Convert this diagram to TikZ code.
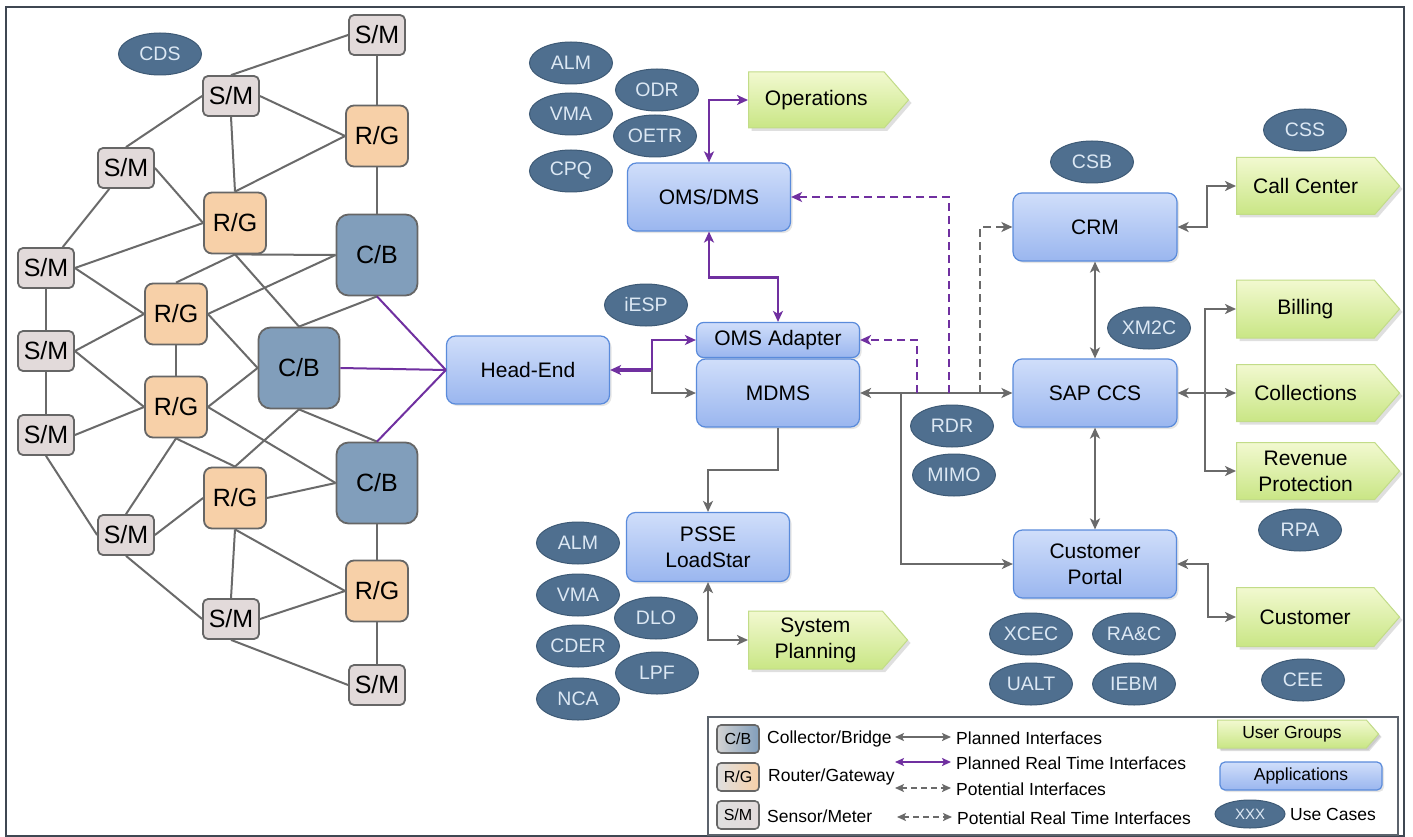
\documentclass[tikz,border=0pt]{standalone}
\usepackage{fontspec}
\setmainfont{Liberation Sans}
\usetikzlibrary{shapes.geometric,shapes.symbols,arrows.meta,shadows}
\definecolor{lineg}{HTML}{6A6A6A}
\definecolor{purp}{HTML}{7030A0}
\definecolor{ucfill}{HTML}{4F6F8F}
\definecolor{ucdraw}{HTML}{3E5A76}
\definecolor{uctext}{HTML}{DCE8F4}
\definecolor{smfill}{HTML}{E2DADA}
\definecolor{rgfill}{HTML}{F7D0A8}
\definecolor{cbfill}{HTML}{819EBB}
\definecolor{meshdraw}{HTML}{666666}
\definecolor{apptop}{HTML}{D0DEFA}
\definecolor{appbot}{HTML}{9AB6EF}
\definecolor{appdraw}{HTML}{5A8BDB}
\definecolor{grtop}{HTML}{F2F9D0}
\definecolor{grbot}{HTML}{C9E685}
\definecolor{grdraw}{HTML}{C2DC88}
\definecolor{framec}{HTML}{3F4752}
\tikzset{
 meshbox/.style={draw=meshdraw, line width=1.8pt, font=\fontsize{25}{27}\selectfont, inner sep=0pt},
 smbox/.style={meshbox, fill=smfill, minimum width=56pt, minimum height=40pt, rounded corners=5pt},
 rgbox/.style={meshbox, fill=rgfill, minimum width=62pt, minimum height=61pt, rounded corners=8pt},
 cbbox/.style={meshbox, fill=cbfill, minimum width=81pt, minimum height=81pt, rounded corners=12pt},
 uc/.style={ellipse, fill=ucfill, draw=ucdraw, line width=1pt, minimum width=83pt, minimum height=42pt, inner sep=0pt, text=uctext, font=\fontsize{19.5}{21}\selectfont},
 app/.style={draw=appdraw, line width=1.2pt, rounded corners=9pt, top color=apptop, bottom color=appbot, minimum width=163pt, minimum height=68pt, inner sep=0pt, align=center, font=\fontsize{21}{26}\selectfont, drop shadow={opacity=0.2, shadow xshift=2pt, shadow yshift=-2pt}},
 ug/.style={signal, signal to=east, signal pointer angle=98, anchor=west, draw=grdraw, line width=1pt, top color=grtop, bottom color=grbot, minimum width=163pt, minimum height=58pt, inner sep=0pt, align=center, font=\fontsize{21}{26}\selectfont, drop shadow={opacity=0.25, shadow xshift=3pt, shadow yshift=-3pt}},
 edge/.style={draw=lineg, line width=2pt},
 gline/.style={draw=lineg, line width=2.2pt},
 pline/.style={draw=purp, line width=2.4pt},
 gdash/.style={gline, dash pattern=on 8pt off 5pt},
 pdash/.style={pline, dash pattern=on 8pt off 5pt},
 legtext/.style={anchor=west, inner sep=0pt, font=\fontsize{17.5}{20}\selectfont},
 mini/.style={draw=meshdraw, line width=1.6pt, rounded corners=4pt, minimum width=42pt, minimum height=28pt, inner sep=0pt, font=\fontsize{16}{18}\selectfont},
 legarr/.style={>={Stealth[length=9pt,width=8pt,inset=2pt]}},
 >={Stealth[length=11pt,width=10pt,inset=3pt]}
}
\begin{document}
\begin{tikzpicture}[x=1pt,y=-1pt]
\useasboundingbox (0,0) rectangle (1413,837);
\fill[white] (0,0) rectangle (1413,837);
\draw[framec, line width=2pt] (6,7) rectangle (1404,836);

% ---------------- mesh ----------------
\node[smbox] (sm1) at (377,35) {S/M};
\node[smbox] (sm2) at (231,96) {S/M};
\node[rgbox] (rg1) at (377,136) {R/G};
\node[smbox] (sm3) at (126,168) {S/M};
\node[rgbox] (rg2) at (235,223) {R/G};
\node[cbbox] (cb1) at (377,255) {C/B};
\node[smbox] (sm4) at (46,268) {S/M};
\node[rgbox] (rg3) at (176,314) {R/G};
\node[cbbox] (cb2) at (299,368) {C/B};
\node[smbox] (sm5) at (46,351) {S/M};
\node[rgbox] (rg4) at (176,407) {R/G};
\node[smbox] (sm6) at (46,435) {S/M};
\node[cbbox] (cb3) at (377,483) {C/B};
\node[rgbox] (rg5) at (235,498) {R/G};
\node[smbox] (sm7) at (126,535) {S/M};
\node[rgbox] (rg6) at (377,591) {R/G};
\node[smbox] (sm8) at (231,619) {S/M};
\node[smbox] (sm9) at (377,685) {S/M};

\draw[edge] (sm1.west) -- (sm2.north);
\draw[edge] (sm1.south) -- (rg1.north);
\draw[edge] (sm2.east) -- (rg1.west);
\draw[edge] (sm2.south) -- (rg2.north);
\draw[edge] (sm2.west) -- (sm3.north);
\draw[edge] (sm3.east) -- (rg2.west);
\draw[edge] (sm3) -- (sm4);
\draw[edge] (rg1.west) -- (rg2.north);
\draw[edge] (rg1.south) -- (cb1.north);
\draw[edge] (sm4.east) -- (rg2.west);
\draw[edge] (rg2.south) -- (cb1.west);
\draw[edge] (rg2.south) -- (rg3.north);
\draw[edge] (rg2.south) -- (cb2.north);
\draw[edge] (sm4.east) -- (rg3.west);
\draw[edge] (rg3.east) -- (cb1.west);
\draw[edge] (cb1.south) -- (cb2.north);
\draw[edge] (sm4.south) -- (sm5.north);
\draw[edge] (sm5.east) -- (rg3.west);
\draw[edge] (sm5.east) -- (rg4.west);
\draw[edge] (rg3.south) -- (rg4.north);
\draw[edge] (rg3.east) -- (cb2.west);
\draw[edge] (rg4.east) -- (cb2.west);
\draw[edge] (sm5.south) -- (sm6.north);
\draw[edge] (sm6.east) -- (rg4.west);
\draw[edge] (rg4.east) -- (cb3.west);
\draw[edge] (cb2.south) -- (rg5.north);
\draw[edge] (cb2.south) -- (cb3.north);
\draw[edge] (rg4.south) -- (rg5.north);
\draw[edge] (rg4.south) -- (sm7.north);
\draw[edge] (sm6.south) -- (sm7.west);
\draw[edge] (sm7.east) -- (rg5.west);
\draw[edge] (rg5.east) -- (cb3.west);
\draw[edge] (cb3.south) -- (rg6.north);
\draw[edge] (rg5.south) -- (sm8.north);
\draw[edge] (rg5.south) -- (rg6.west);
\draw[edge] (sm7.south) -- (sm8.west);
\draw[edge] (sm8.east) -- (rg6.west);
\draw[edge] (sm8.south) -- (sm9.west);
\draw[edge] (rg6.south) -- (sm9.north);

% ---------------- use cases ----------------
\node[uc] (cds) at (160,54) {CDS};
\node[uc] (alm1) at (571,63) {ALM};
\node[uc] (odr) at (657,90) {ODR};
\node[uc] (vma1) at (571,114) {VMA};
\node[uc] (oetr) at (655,136) {OETR};
\node[uc] (cpq) at (571,171) {CPQ};
\node[uc] (iesp) at (646,305) {iESP};
\node[uc] (css) at (1305,130) {CSS};
\node[uc] (csb) at (1092,162) {CSB};
\node[uc] (xm2c) at (1149,328) {XM2C};
\node[uc] (rdr) at (952,426) {RDR};
\node[uc] (mimo) at (954,475) {MIMO};
\node[uc] (rpa) at (1300,530) {RPA};
\node[uc] (alm2) at (578,543) {ALM};
\node[uc] (vma2) at (578,595) {VMA};
\node[uc] (dlo) at (656,618) {DLO};
\node[uc] (cder) at (578,646) {CDER};
\node[uc] (lpf) at (657,673) {LPF};
\node[uc] (nca) at (578,699) {NCA};
\node[uc] (xcec) at (1031,634) {XCEC};
\node[uc] (rac) at (1134,634) {RA\&C};
\node[uc] (ualt) at (1031,684) {UALT};
\node[uc] (iebm) at (1134,684) {IEBM};
\node[uc] (cee) at (1303,680) {CEE};

% ---------------- applications ----------------
\node[app] (omsdms) at (709,197) {OMS/DMS};
\node[app] (he) at (528,370) {Head-End};
\node[app, minimum height=35pt, rounded corners=7pt] (omsad) at (778,340) {OMS Adapter};
\node[app] (mdms) at (778,393) {MDMS};
\node[app, minimum height=69pt] (psse) at (708,547) {PSSE\\LoadStar};
\node[app, minimum width=164pt] (crm) at (1095,227) {CRM};
\node[app, minimum width=164pt] (sap) at (1095,393) {SAP CCS};
\node[app] (portal) at (1095,564) {Customer\\Portal};

% ---------------- user groups ----------------
\node[ug, minimum width=160pt, minimum height=56pt] (ops) at (748,100) {Operations};
\node[ug, minimum width=159pt] (sysplan) at (748,640) {System\\Planning};
\node[ug, minimum height=57pt] (callc) at (1236,186) {Call Center};
\node[ug] (billing) at (1236,309) {Billing};
\node[ug, minimum height=57pt] (collect) at (1236,393) {Collections};
\node[ug, minimum height=57pt] (revprot) at (1236,471) {Revenue\\Protection};
\node[ug, minimum height=59pt] (customer) at (1236,617) {Customer};

% ---------------- connectors ----------------
\draw[pline, line width=2pt] (cb1.south) -- (he.west);
\draw[pline, line width=2pt] (cb2.east) -- (he.west);
\draw[pline, line width=2pt] (cb3.north) -- (he.west);

\coordinate (j1) at (652,370);
\draw[pline, line width=4.5pt, ->] (j1) -- (he.east);
\draw[pline, ->] (j1) |- (omsad.west);
\draw[gline, ->] (j1) |- (mdms.west);

\draw[pline, <->] (omsdms.north) |- (ops.west);
\draw[pline, <->] (omsdms.south) -- ++(0,46) -| (omsad.north);

\draw[gline, <->] (mdms.east) -- (sap.west);
\coordinate (jp) at (901,393);
\coordinate (ja) at (917,393);
\coordinate (jo) at (949,393);
\coordinate (jc) at (980,393);
\draw[gline, ->] (jp) |- (portal.west);
\draw[pdash, ->] (ja) |- (omsad.east);
\draw[pdash, ->] (jo) |- (omsdms.east);
\draw[gdash, ->] (jc) |- (crm.west);

\draw[gline, <->] (crm.south) -- (sap.north);
\draw[gline, <->] (sap.south) -- (portal.north);
\draw[gline, <->] (crm.east) -- ++(29,0) |- (callc.west);

\coordinate (js) at (1205,393);
\draw[gline, ->] (js) -- (sap.east);
\draw[gline, ->] (js) |- (billing.west);
\draw[gline, ->] (js) -- (collect.west);
\draw[gline, ->] (js) |- (revprot.west);

\draw[gline, <->] (portal.east) -- ++(31,0) |- (customer.west);
\draw[gline, ->] (mdms.south) -- ++(0,42) -| (psse.north);
\draw[gline, <->] (psse.south) |- (sysplan.west);

% ---------------- legend ----------------
\node[draw=framec!85, line width=2pt, minimum width=690pt, minimum height=118pt, inner sep=0pt] (legend) at (1053,776) {};
\node[mini, left color=gray!35, right color=cbfill] (lcb) at (738,739) {C/B};
\node[mini, left color=gray!25, right color=rgfill] (lrg) at (738,777) {R/G};
\node[mini, left color=gray!25, right color=smfill] (lsm) at (738,815) {S/M};
\node[legtext] (tcb) at (767,739) {Collector/Bridge};
\node[legtext] (trg) at (768,777) {Router/Gateway};
\node[legtext] (tsm) at (767,816) {Sensor/Meter};

\coordinate (a1) at (895,737); \coordinate (b1) at (951,737);
\coordinate (a2) at (895,762); \coordinate (b2) at (951,762);
\coordinate (a3) at (895,788); \coordinate (b3) at (951,788);
\coordinate (a4) at (897,817); \coordinate (b4) at (952,817);
\draw[gline, line width=2pt, legarr, <->] (a1) -- (b1);
\draw[pline, line width=2.2pt, legarr, <->] (a2) -- (b2);
\draw[gline, line width=2pt, dash pattern=on 6pt off 4pt, legarr, <->] (a3) -- (b3);
\draw[gline, line width=2pt, dash pattern=on 6pt off 4pt, legarr, <->] (a4) -- (b4);
\node[legtext] (t1) at (956,738) {Planned Interfaces};
\node[legtext] (t2) at (956,763) {Planned Real Time Interfaces};
\node[legtext] (t3) at (956,789) {Potential Interfaces};
\node[legtext] (t4) at (957,818) {Potential Real Time Interfaces};

\node[ug, minimum width=161pt, minimum height=28pt, font=\fontsize{17.5}{20}\selectfont, drop shadow={opacity=0.2, shadow xshift=2pt, shadow yshift=-2pt}] (lug) at (1217,734) {User Groups};
\node[app, minimum width=162pt, minimum height=28pt, rounded corners=5pt, font=\fontsize{17.5}{20}\selectfont] (lapp) at (1301,776) {Applications};
\node[uc, minimum width=70pt, minimum height=28pt, font=\fontsize{15}{17}\selectfont] (luc) at (1250,814) {XXX};
\node[legtext] (tuc) at (1290,814) {Use Cases};
\end{tikzpicture}
\end{document}
